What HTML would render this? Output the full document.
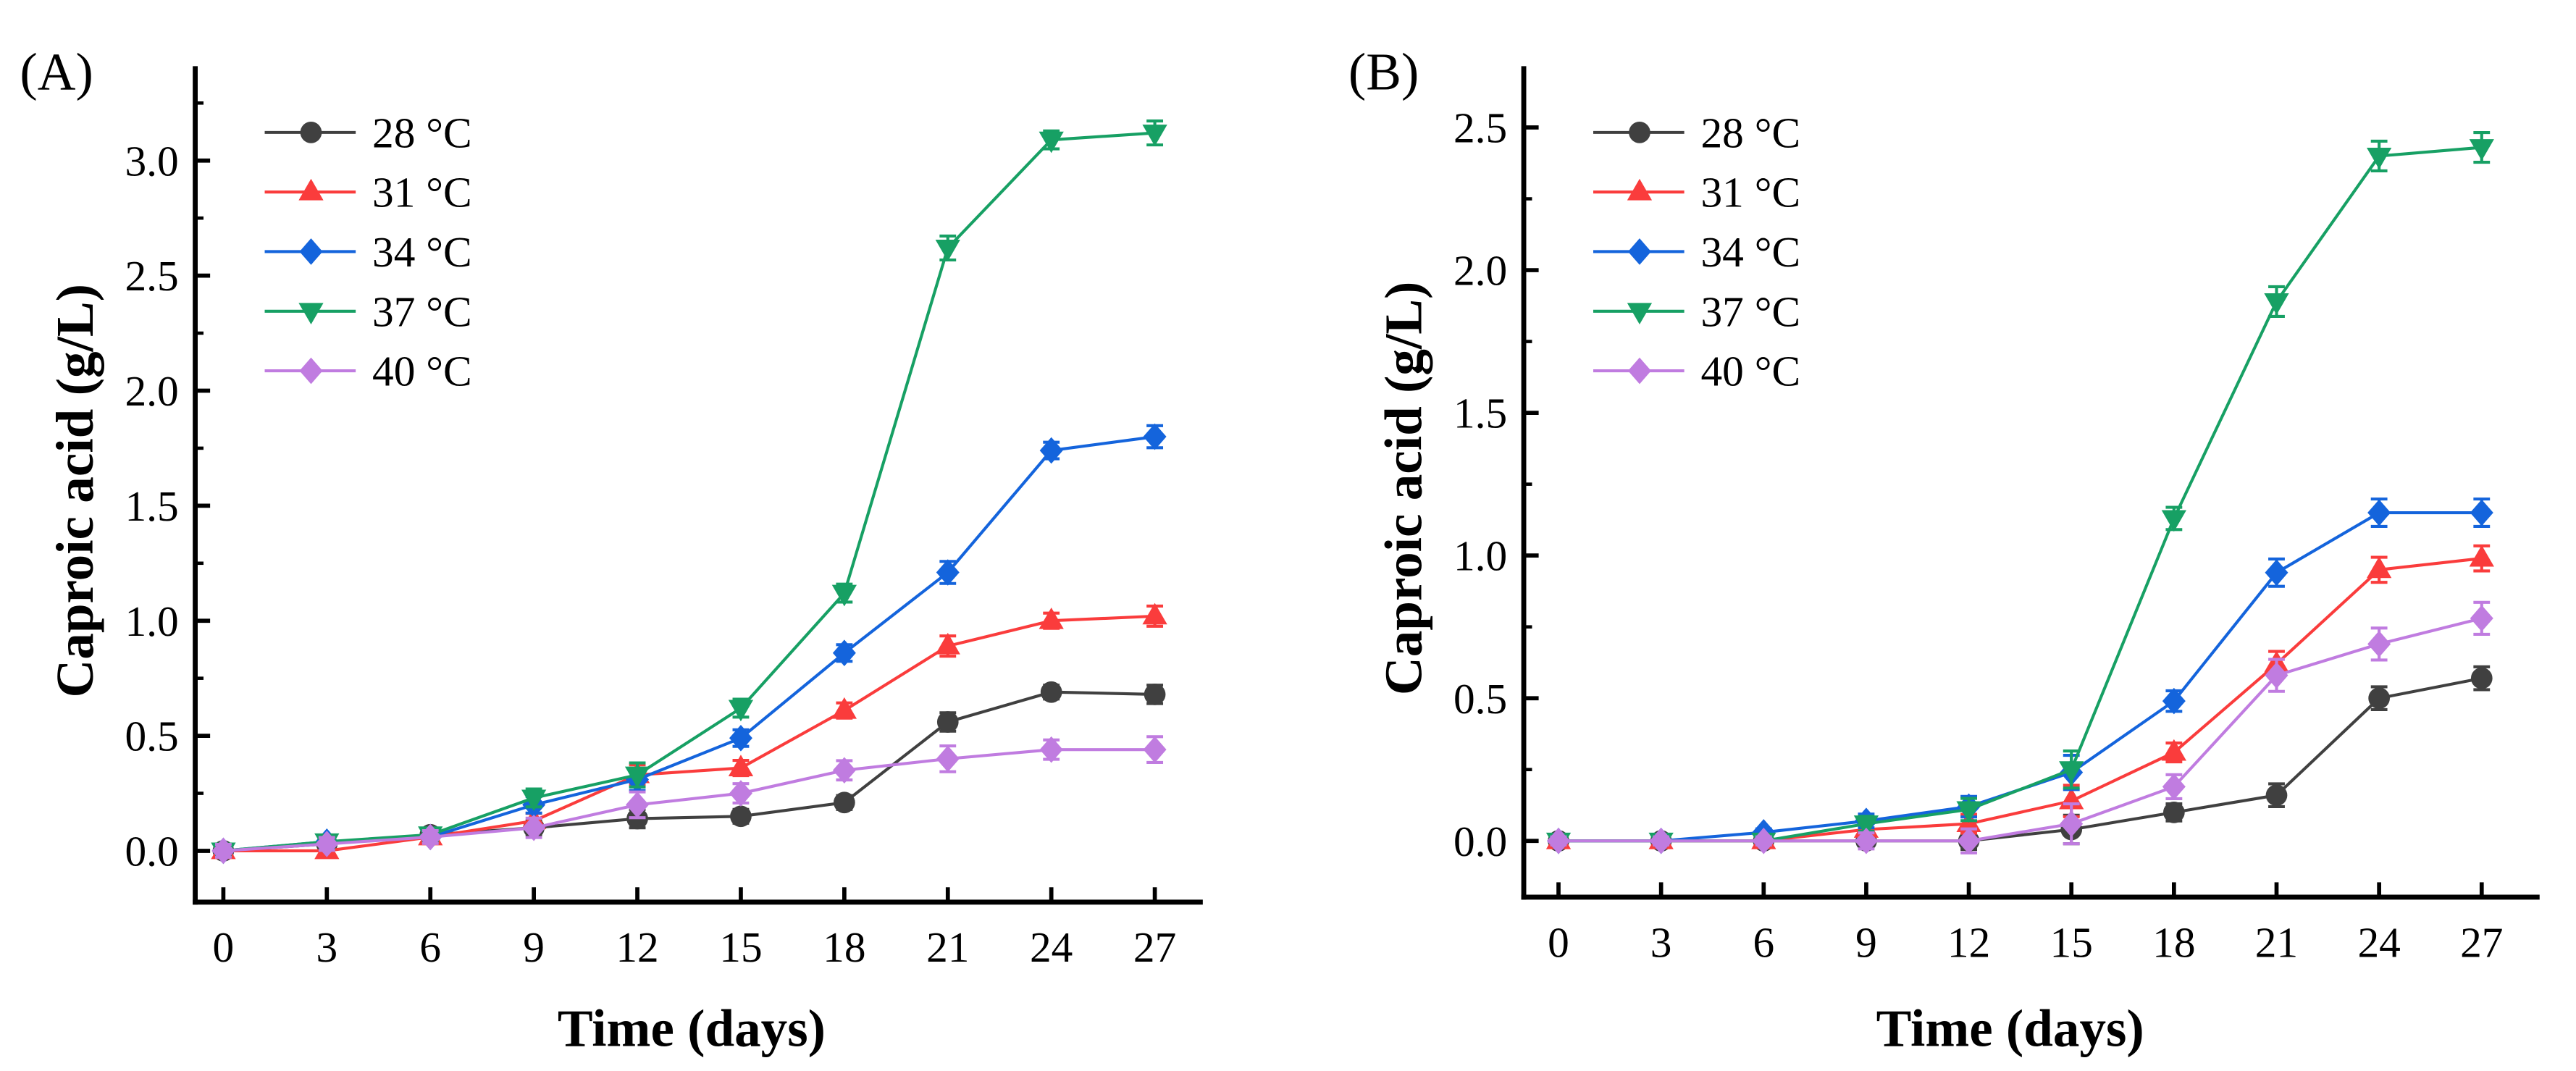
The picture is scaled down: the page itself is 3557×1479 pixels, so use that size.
<!DOCTYPE html>
<html><head><meta charset="utf-8"><style>
html,body{margin:0;padding:0;background:#fff;}
svg{display:block;font-family:"Liberation Serif",serif;}
</style></head><body>
<svg id="chart" width="3557" height="1479" viewBox="0 0 1557 647" preserveAspectRatio="none" xmlns="http://www.w3.org/2000/svg"></svg>
<script>
const days = [0,3,6,9,12,15,18,21,24,27];
const seriesNames = ["28 °C","31 °C","34 °C","37 °C","40 °C"];
const aS28 = [0,0.03,0.07,0.1,0.14,0.15,0.21,0.56,0.69,0.68];
const aS31 = [0,0,0.06,0.13,0.33,0.36,0.61,0.89,1.0,1.02];
const aS34 = [0,0.04,0.06,0.2,0.31,0.49,0.86,1.21,1.74,1.8];
const aS37 = [0,0.04,0.07,0.23,0.33,0.62,1.12,2.62,3.09,3.12];
const aS40 = [0,0.03,0.06,0.1,0.2,0.25,0.35,0.4,0.44,0.44];
const aErr = [0.02,0.02,0.02,0.03,0.04,0.03,0.03,0.04,0.03,0.04];
const bS28 = [0,0,0,0,0,0.04,0.1,0.16,0.5,0.57];
const bS31 = [0,0,0,0.04,0.06,0.14,0.31,0.62,0.95,0.99];
const bS34 = [0,0,0.03,0.07,0.12,0.24,0.49,0.94,1.15,1.15];
const bS37 = [0,0,0,0.06,0.11,0.25,1.13,1.89,2.4,2.43];
const bS40 = [0,0,0,0,0,0.06,0.19,0.58,0.69,0.78];
const bErr = [0.01,0.01,0.01,0.02,0.03,0.05,0.03,0.04,0.04,0.04];
const aYTicks = [0,0.5,1.0,1.5,2.0,2.5,3.0];
const bYTicks = [0,0.5,1.0,1.5,2.0,2.5];
const colors = ["#404040","#fa3c3c","#1464dc","#17a064","#c07ce0"];
const markers = ["circle","up","diamond","down","diamond"];
const NS="http://www.w3.org/2000/svg";
const svg=document.getElementById('chart');
function el(tag,attrs,parent){const e=document.createElementNS(NS,tag);for(const k in attrs)e.setAttribute(k,attrs[k]);(parent||svg).appendChild(e);return e;}
function marker(g,kind,x,y,c){
  let m;
  if(kind==="circle")m=el('circle',{cx:x,cy:y,r:6.5,fill:c},g);
  else if(kind==="up")m=el('polygon',{points:`${x},${y-8} ${x-7.5},${y+5} ${x+7.5},${y+5}`,fill:c},g);
  else if(kind==="down")m=el('polygon',{points:`${x},${y+8} ${x-7.5},${y-5} ${x+7.5},${y-5}`,fill:c},g);
  else m=el('polygon',{points:`${x},${y-8} ${x+7},${y} ${x},${y+8} ${x-7},${y}`,fill:c},g);
  return m;
}
function panel(cfg){
  const {id,label,ax,x0,x27,y0,yStep,ticks,series,err,legX,titleX,bottom,right}=cfg;
  const X=d=>x0+(x27-x0)*d/27;
  const Y=v=>y0-v/0.5*yStep;
  const g=el('g',{});
  
  
  const top=40;
  const axes=el('g',{},g);
  
  
  el('line',{x1:ax,y1:top,x2:ax,y2:bottom+1.5,stroke:'#000','stroke-width':3},axes);
  el('line',{x1:ax-1.5,y1:bottom,x2:right,y2:bottom,stroke:'#000','stroke-width':3},axes);
  days.forEach(d=>{
    el('line',{x1:X(d),y1:bottom,x2:X(d),y2:bottom-9,stroke:'#000','stroke-width':2.5},axes);
    const t=el('text',{x:X(d),y:bottom+36,'text-anchor':'middle','font-size':26},axes);t.textContent=d;
    
    
  });
  ticks.forEach(v=>{
    el('line',{x1:ax+9,y1:Y(v),x2:ax,y2:Y(v),stroke:'#000','stroke-width':2.5},axes);
    if(Y(v+0.25)>top) el('line',{x1:ax+5,y1:Y(v+0.25),x2:ax,y2:Y(v+0.25),stroke:'#000','stroke-width':2},axes);
    const t=el('text',{x:ax-10,y:Y(v)+9,'text-anchor':'end','font-size':26},axes);t.textContent=v.toFixed(1);
    
    
  });
  if(Y(-0.25)<bottom-3) el('line',{x1:ax+5,y1:Y(-0.25),x2:ax,y2:Y(-0.25),stroke:'#000','stroke-width':2},axes);
  const yt=el('text',{transform:`translate(${ax-62},${(top+bottom)/2+4}) rotate(-90)`,'text-anchor':'middle','font-size':32,'font-weight':'bold'},g);
  yt.textContent='Caproic acid (g/L)';
  
  
  const xt=el('text',{x:titleX,y:632,'text-anchor':'middle','font-size':32,'font-weight':'bold'},g);
  xt.textContent='Time (days)';
  
  
  const pl=el('text',{x:ax-106,y:54,'font-size':32},g);pl.textContent=label;
  
  
  series.forEach((vals,i)=>{
    const sg=el('g',{},g);
    
    
    el('polyline',{points:vals.map((v,j)=>X(days[j])+','+Y(v)).join(' '),fill:'none',stroke:colors[i],'stroke-width':1.8},sg);
    vals.forEach((v,j)=>{
      const e=err[j]*(1+0.1*i);
      el('line',{x1:X(days[j]),y1:Y(v+e),x2:X(days[j]),y2:Y(v-e),stroke:colors[i],'stroke-width':1.8},sg);
      el('line',{x1:X(days[j])-5,y1:Y(v+e),x2:X(days[j])+5,y2:Y(v+e),stroke:colors[i],'stroke-width':1.8},sg);
      el('line',{x1:X(days[j])-5,y1:Y(v-e),x2:X(days[j])+5,y2:Y(v-e),stroke:colors[i],'stroke-width':1.8},sg);
      const m=marker(sg,markers[i],X(days[j]),Y(v),colors[i]);
      
      
    });
    const ly=80+i*36;
    const lg=el('g',{},g);
    
    
    el('line',{x1:legX,y1:ly,x2:legX+55,y2:ly,stroke:colors[i],'stroke-width':1.8},lg);
    marker(lg,markers[i],legX+28,ly,colors[i]);
    const lt=el('text',{x:legX+65,y:ly+9,'font-size':26},lg);lt.textContent=seriesNames[i];
  });
}
panel({id:'panel-a',label:'(A)',ax:118,x0:135,x27:698,y0:514,yStep:69.5,ticks:aYTicks,series:[aS28,aS31,aS34,aS37,aS40],err:aErr,legX:160,titleX:418,bottom:545,right:727});
panel({id:'panel-b',label:'(B)',ax:921,x0:942,x27:1500,y0:508,yStep:86.2,ticks:bYTicks,series:[bS28,bS31,bS34,bS37,bS40],err:bErr,legX:963,titleX:1215,bottom:542,right:1535});
</script>
</body></html>
